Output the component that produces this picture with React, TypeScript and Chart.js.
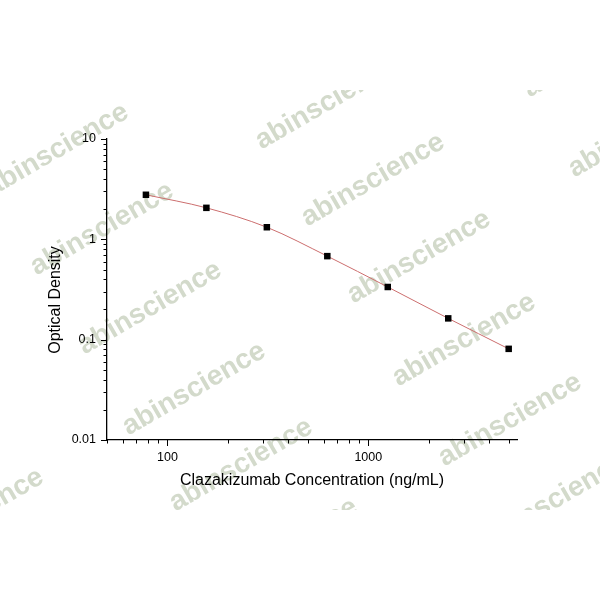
import React, { useEffect, useRef } from "react";
import { Chart, registerables } from "chart.js";

Chart.register(...registerables);

const concentrations = [78.125, 156.25, 312.5, 625, 1250, 2500, 5000];
const opticalDensity = [2.78, 2.06, 1.32, 0.68, 0.335, 0.163, 0.081];

const xMajorTicks = [100, 1000];
const xMinorTicks = [50, 60, 70, 80, 90, 200, 300, 400, 500, 600, 700, 800, 900, 2000, 3000, 4000, 5000];
const yMajorTicks = [0.01, 0.1, 1, 10];
const yMinorTicks = [
  0.02, 0.03, 0.04, 0.05, 0.06, 0.07, 0.08, 0.09,
  0.2, 0.3, 0.4, 0.5, 0.6, 0.7, 0.8, 0.9,
  2, 3, 4, 5, 6, 7, 8, 9,
];

const xTitle = "Clazakizumab Concentration (ng/mL)";
const yTitle = "Optical Density";
const watermarkText = "abinscience";

const WATERMARKS: [number, number][] = [
  [57, 150], [102, 229], [150, 308], [194, 389], [241, 465], [286, 545],
  [327, 103], [373, 180], [419, 257], [464, 340], [510, 420], [555, 500],
  [595, 51], [640, 131],
  [-28, 515],
];

const FONT = "Arial, 'Liberation Sans', sans-serif";

const watermarkPlugin = {
  id: "watermark",
  beforeDraw(chart: any) {
    const ctx = chart.ctx;
    ctx.save();
    ctx.beginPath();
    ctx.rect(0, 90, 600, 420);
    ctx.clip();
    ctx.fillStyle = "#d3dacb";
    ctx.font = `bold 28px ${FONT}`;
    ctx.textAlign = "center";
    ctx.textBaseline = "middle";
    for (const [cx, cy] of WATERMARKS) {
      ctx.save();
      ctx.translate(cx, cy);
      ctx.rotate((-30 * Math.PI) / 180);
      ctx.fillText(watermarkText, 0, 0);
      ctx.restore();
    }
    ctx.restore();
  },
};

const tickMarksPlugin = {
  id: "tickMarks",
  afterDraw(chart: any) {
    const ctx = chart.ctx;
    const xs = chart.scales.x;
    const ys = chart.scales.y;
    ctx.save();
    ctx.strokeStyle = "#000";
    ctx.lineWidth = 1;
    const drawX = (v: number, len: number) => {
      const p = Math.round(xs.getPixelForValue(v)) + 0.5;
      if (p < xs.left - 1 || p > xs.right + 1) return;
      ctx.beginPath();
      ctx.moveTo(p, xs.top);
      ctx.lineTo(p, xs.top + len);
      ctx.stroke();
    };
    const drawY = (v: number, len: number) => {
      const p = Math.round(ys.getPixelForValue(v)) + 0.5;
      if (p < ys.top - 1 || p > ys.bottom + 1) return;
      ctx.beginPath();
      ctx.moveTo(ys.right, p);
      ctx.lineTo(ys.right - len, p);
      ctx.stroke();
    };
    xMajorTicks.forEach((v) => drawX(v, 6));
    xMinorTicks.forEach((v) => drawX(v, 3.5));
    yMajorTicks.forEach((v) => drawY(v, 6));
    yMinorTicks.forEach((v) => drawY(v, 3.5));

    // y-axis title
    ctx.fillStyle = "#000";
    ctx.font = `16px ${FONT}`;
    ctx.textAlign = "center";
    ctx.textBaseline = "middle";
    ctx.translate(55.5, 300);
    ctx.rotate(-Math.PI / 2);
    ctx.fillText(yTitle, 0, 0);
    ctx.restore();
  },
};

export default function App() {
  const canvasRef = useRef<HTMLCanvasElement | null>(null);

  useEffect(() => {
    if (!canvasRef.current) return;
    const chart = new Chart(canvasRef.current, {
      type: "line",
      data: {
        datasets: [
          {
            data: concentrations.map((c, i) => ({ x: c, y: opticalDensity[i] })),
            borderColor: "#cc6e6e",
            borderWidth: 1,
            cubicInterpolationMode: "monotone",
            pointStyle: "rect",
            pointRadius: 4.6,
            pointBackgroundColor: "#000",
            pointBorderColor: "#000",
            pointBorderWidth: 0,
            fill: false,
          },
        ],
      },
      options: {
        responsive: false,
        animation: false,
        events: [],
        layout: { padding: { left: 0, top: 139, right: 83, bottom: 0 } },
        plugins: {
          legend: { display: false },
          tooltip: { enabled: false },
          title: { display: false },
        },
        scales: {
          x: {
            type: "logarithmic",
            min: 50,
            max: 5500,
            afterBuildTicks: (scale: any) => {
              scale.ticks = xMajorTicks.map((v) => ({ value: v, major: true }));
            },
            afterFit: (scale: any) => {
              scale.height = 160;
              scale.paddingLeft = 0;
              scale.paddingRight = 0;
            },
            grid: { display: false, drawTicks: false },
            border: { display: true, color: "#000", width: 1.3 },
            ticks: {
              autoSkip: false,
              maxRotation: 0,
              padding: 10,
              color: "#000",
              font: { family: FONT, size: 12.5 },
              callback: (v: any) => String(v),
            },
            title: {
              display: true,
              text: xTitle,
              color: "#000",
              font: { family: FONT, size: 16 },
              padding: { top: 0, bottom: 110 },
            },
          },
          y: {
            type: "logarithmic",
            min: 0.01,
            max: 10,
            afterBuildTicks: (scale: any) => {
              scale.ticks = yMajorTicks.map((v) => ({ value: v, major: true }));
            },
            afterFit: (scale: any) => {
              scale.width = 107;
              scale.paddingTop = 0;
              scale.paddingBottom = 0;
            },
            grid: { display: false, drawTicks: false },
            border: { display: true, color: "#000", width: 1.3 },
            ticks: {
              autoSkip: false,
              padding: 11,
              color: "#000",
              font: { family: FONT, size: 12.5 },
              callback: (v: any) => String(v),
            },
          },
        },
      },
      plugins: [watermarkPlugin, tickMarksPlugin],
    } as any);
    return () => chart.destroy();
  }, []);

  return (
    <div style={{ position: "absolute", left: 0, top: 0, width: 600, height: 600, background: "#fff" }}>
      <canvas ref={canvasRef} width={600} height={600} style={{ width: 600, height: 600, display: "block" }} />
    </div>
  );
}
